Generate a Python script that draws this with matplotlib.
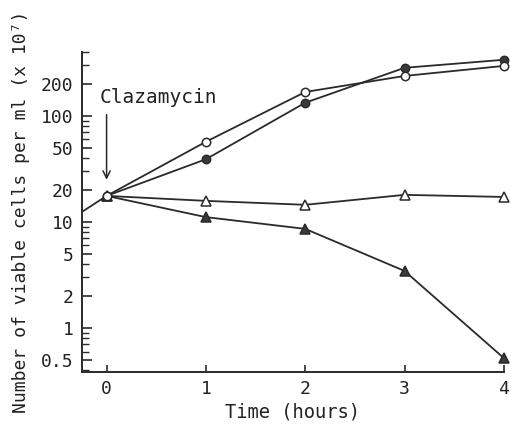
import matplotlib
matplotlib.use("Agg")
import matplotlib.pyplot as plt
from matplotlib.ticker import LogLocator, FixedLocator, NullFormatter

# data (hours, viable cells per ml x10^7)
PRE_TIME = [-0.25, 0]
PRE_VALUES = [12.4, 17.6]

TIME = [0, 1, 2, 3, 4]
OPEN_CIRCLE = [17.6, 57, 168, 238, 296]
FILLED_CIRCLE = [17.6, 39, 133, 284, 338]
OPEN_TRIANGLE = [17.6, 15.8, 14.5, 18.0, 17.2]
FILLED_TRIANGLE = [17.6, 11.1, 8.6, 3.45, 0.52]

Y_TICKS = [0.5, 1, 2, 5, 10, 20, 50, 100, 200]
Y_TICK_LABELS = ["0.5", "1", "2", "5", "10", "20", "50", "100", "200"]

plt.rcParams["font.family"] = ["DejaVu Sans Mono"]
plt.rcParams["font.size"] = 13

fig = plt.figure(figsize=(5.11, 4.29), dpi=100)
ax = fig.add_axes([0.160, 0.133, 0.826, 0.746])

LINE = "#2a2a2a"
FILL = "#3a3a3a"
lw = 1.3
ms = 6

ax.plot(PRE_TIME, PRE_VALUES, color=LINE, lw=lw)
ax.plot(TIME, OPEN_TRIANGLE, color=LINE, lw=lw, marker="^", ms=ms + 1,
        mfc="white", mec=LINE, mew=1.1, clip_on=False)
ax.plot(TIME, FILLED_TRIANGLE, color=LINE, lw=lw, marker="^", ms=ms + 1,
        mfc=FILL, mec=LINE, mew=1.1, clip_on=False)
ax.plot(TIME, FILLED_CIRCLE, color=LINE, lw=lw, marker="o", ms=ms,
        mfc=FILL, mec=LINE, mew=1.1, clip_on=False)
ax.plot(TIME, OPEN_CIRCLE, color=LINE, lw=lw, marker="o", ms=ms,
        mfc="white", mec=LINE, mew=1.1, clip_on=False)

ax.set_yscale("log")
ax.set_xlim(-0.25, 4.0)
ax.set_ylim(0.385, 401)

ax.yaxis.set_major_locator(FixedLocator(Y_TICKS))
ax.set_yticklabels(Y_TICK_LABELS)
ax.yaxis.set_minor_locator(LogLocator(base=10, subs=range(1, 10), numticks=20))
ax.yaxis.set_minor_formatter(NullFormatter())
ax.set_xticks(TIME)

for s in ["top", "right"]:
    ax.spines[s].set_visible(False)
for s in ["left", "bottom"]:
    ax.spines[s].set_linewidth(1.4)
    ax.spines[s].set_color(LINE)

ax.tick_params(axis="y", which="major", direction="in", length=7, width=1.2,
               pad=6, colors=LINE)
ax.tick_params(axis="y", which="minor", direction="in", length=5, width=1.0,
               colors=LINE)
ax.tick_params(axis="x", which="major", direction="in", length=5, width=1.2,
               pad=6, colors=LINE)
for lab in ax.get_xticklabels() + ax.get_yticklabels():
    lab.set_color("#222222")

ax.annotate("", xy=(0, 23.5), xytext=(0, 109),
            arrowprops=dict(arrowstyle="->", color=LINE, lw=1.1))
ax.text(-0.07, 148, "Clazamycin", ha="left", va="center", color="#222222",
        fontsize=14)

ax.set_xlabel("Time (hours)", color="#222222", labelpad=3, fontsize=13.5)
ax.set_ylabel("Number of viable cells per ml (x 10\u2077)", color="#222222",
              labelpad=8)

fig.savefig("out.png", dpi=100)
